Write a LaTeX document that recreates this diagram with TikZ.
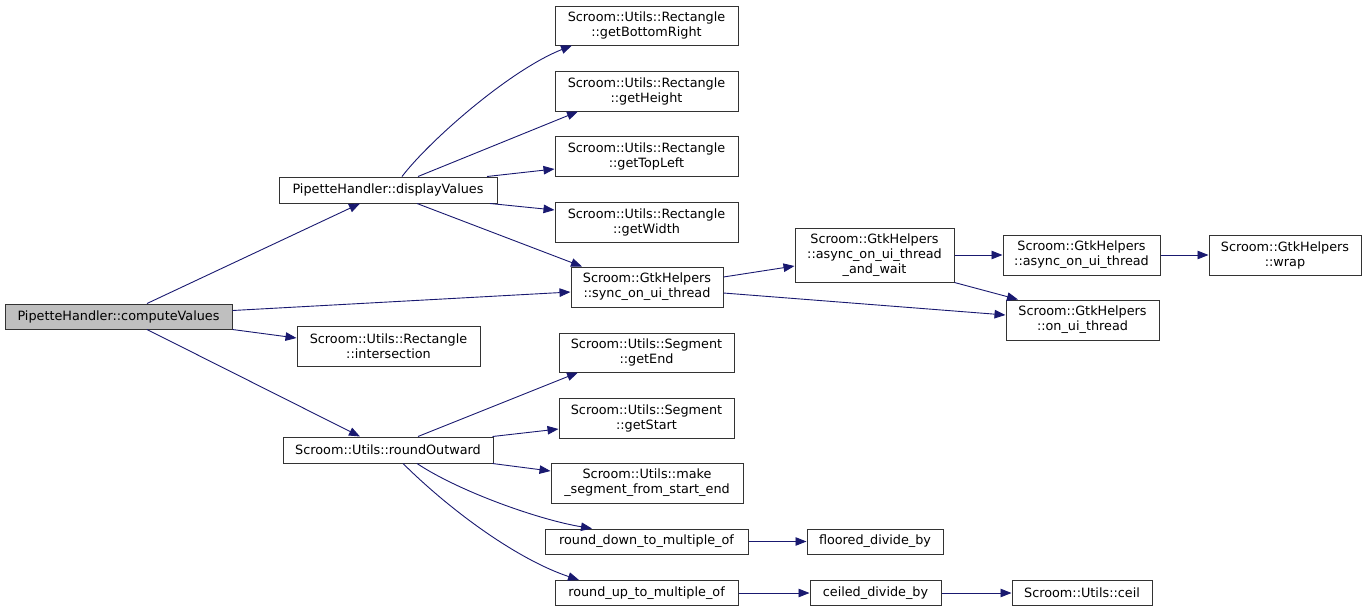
\documentclass[tikz,border=0pt]{standalone}
\usepackage{fontspec}
\setmainfont{DejaVu Sans}
\usetikzlibrary{arrows.meta}
\definecolor{edgec}{HTML}{191970}
\definecolor{boxc}{HTML}{333333}
\definecolor{mainfill}{HTML}{BFBFBF}
\begin{document}
\begin{tikzpicture}[x=1pt,y=-1pt,
  box/.style={draw=boxc, line width=1pt, fill=white, inner sep=0pt, align=center,
    font=\fontsize{12.8}{15}\selectfont},
  edge/.style={draw=edgec, line width=0.9pt, -{Triangle[length=11pt,width=8.5pt]}}
]
\useasboundingbox (0,0) rectangle (1367,611);

% nodes
\node[box, fill=mainfill, minimum width=227pt, minimum height=25pt] (cv) at (118.5,316.5) {PipetteHandler::computeValues};
\node[box, minimum width=218pt, minimum height=26pt] (dv) at (388,190) {PipetteHandler::displayValues};
\node[box, minimum width=183pt, minimum height=39pt] (gbr) at (646.5,25.5) {Scroom::Utils::Rectangle\\::getBottomRight};
\node[box, minimum width=183pt, minimum height=40pt] (gh) at (646.5,91) {Scroom::Utils::Rectangle\\::getHeight};
\node[box, minimum width=183pt, minimum height=40pt] (gtl) at (646.5,156) {Scroom::Utils::Rectangle\\::getTopLeft};
\node[box, minimum width=183pt, minimum height=40pt] (gw) at (646.5,222) {Scroom::Utils::Rectangle\\::getWidth};
\node[box, minimum width=152pt, minimum height=40pt] (sync) at (647,287) {Scroom::GtkHelpers\\::sync\_on\_ui\_thread};
\node[box, minimum width=159pt, minimum height=54pt] (aw) at (874.5,255) {Scroom::GtkHelpers\\::async\_on\_ui\_thread\\\_and\_wait};
\node[box, minimum width=157pt, minimum height=40pt] (aoui) at (1081.5,255) {Scroom::GtkHelpers\\::async\_on\_ui\_thread};
\node[box, minimum width=152pt, minimum height=40pt] (wrap) at (1285,255) {Scroom::GtkHelpers\\::wrap};
\node[box, minimum width=153pt, minimum height=40pt] (oui) at (1082.5,320) {Scroom::GtkHelpers\\::on\_ui\_thread};
\node[box, minimum width=183pt, minimum height=40pt] (inter) at (388.5,346) {Scroom::Utils::Rectangle\\::intersection};
\node[box, minimum width=210pt, minimum height=26pt] (ro) at (388,450) {Scroom::Utils::roundOutward};
\node[box, minimum width=175pt, minimum height=39pt] (ge) at (646.5,352.5) {Scroom::Utils::Segment\\::getEnd};
\node[box, minimum width=175pt, minimum height=40pt] (gs) at (646.5,418) {Scroom::Utils::Segment\\::getStart};
\node[box, minimum width=192pt, minimum height=40pt] (ms) at (647,483) {Scroom::Utils::make\\\_segment\_from\_start\_end};
\node[box, minimum width=203pt, minimum height=25pt] (rd) at (646.5,541.5) {round\_down\_to\_multiple\_of};
\node[box, minimum width=136pt, minimum height=25pt] (fl) at (875,541.5) {floored\_divide\_by};
\node[box, minimum width=183pt, minimum height=25pt] (ru) at (646.5,593) {round\_up\_to\_multiple\_of};
\node[box, minimum width=131pt, minimum height=25pt] (cd) at (875.5,593) {ceiled\_divide\_by};
\node[box, minimum width=140pt, minimum height=25pt] (ceil) at (1082,593) {Scroom::Utils::ceil};

% edges
\draw[edge] ([xshift=28.5pt]cv.north) -- ([xshift=-28pt]dv.south);
\draw[edge] ([yshift=6pt]cv.east) -- ([yshift=-5pt]sync.west);
\draw[edge] (cv.south east) -- ([yshift=8pt]inter.west);
\draw[edge] ([xshift=28.5pt]cv.south) -- ([xshift=-28pt]ro.north);

\draw[edge] ([xshift=14pt]dv.north) .. controls (430,140) and (510,70) .. ([xshift=-74.5pt]gbr.south);
\draw[edge] ([xshift=30pt]dv.north) -- ([xshift=-68.5pt]gh.south);
\draw[edge] ([xshift=99pt]dv.north) -- ([yshift=-13pt]gtl.west);
\draw[edge] ([xshift=102pt]dv.south) -- ([yshift=12pt]gw.west);
\draw[edge] ([xshift=29pt]dv.south) -- ([xshift=-65pt]sync.north);

\draw[edge] ([yshift=10pt]sync.east) -- ([yshift=-11pt]aw.west);
\draw[edge] ([yshift=-6pt]sync.east) -- ([yshift=5pt]oui.west);
\draw[edge] (aw.east) -- (aoui.west);
\draw[edge] (aw.south east) -- ([xshift=-64.5pt]oui.north);
\draw[edge] (aoui.east) -- (wrap.west);

\draw[edge] ([xshift=30pt]ro.north) -- ([xshift=-68.5pt]ge.south);
\draw[edge] ([xshift=-1pt]ro.north east) -- ([yshift=-11pt]gs.west);
\draw[edge] ([xshift=-1pt]ro.south east) -- ([yshift=12pt]ms.west);
\draw[edge] ([xshift=29pt]ro.south) .. controls (460,492) and (540,520) .. ([xshift=-54.5pt]rd.north);
\draw[edge] ([xshift=15pt]ro.south) .. controls (453,513) and (519,560) .. ([xshift=-67.5pt]ru.north);

\draw[edge] (rd.east) -- (fl.west);
\draw[edge] (ru.east) -- (cd.west);
\draw[edge] (cd.east) -- (ceil.west);
\end{tikzpicture}
\end{document}
